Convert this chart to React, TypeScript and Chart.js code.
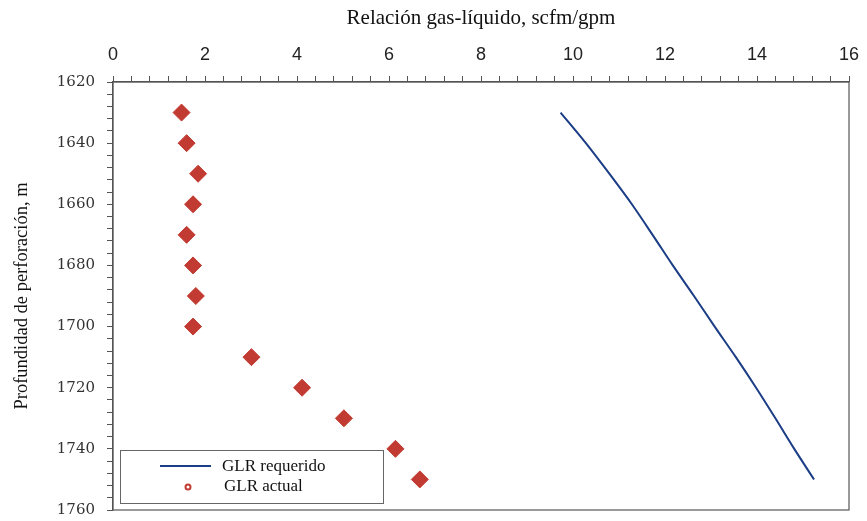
import React, { useEffect, useRef } from "react";
import { Chart, registerables } from "chart.js";

Chart.register(...registerables);

const depths = [1630, 1640, 1650, 1660, 1670, 1680, 1690, 1700, 1710, 1720, 1730, 1740, 1750];
const glrActual = [1.49, 1.6, 1.85, 1.74, 1.6, 1.74, 1.8, 1.74, 3.01, 4.11, 5.02, 6.14, 6.67];
const glrRequerido = [9.73, 10.28, 10.79, 11.28, 11.73, 12.17, 12.63, 13.08, 13.54, 13.98, 14.4, 14.81, 15.24];

const xTitle = "Relación gas-líquido, scfm/gpm";
const yTitle = "Profundidad de perforación, m";
const legendLabels = ["GLR requerido", "GLR actual"];

const LINE_COLOR = "#1b3d85";
const MARK_COLOR = "#c23b32";
const AXIS_COLOR = "#555555";

const isMult = (v: number, m: number) => Math.abs(v / m - Math.round(v / m)) < 1e-6;

const framePlugin = {
  id: "frameAndLegend",
  afterDraw(chart: any) {
    const { ctx, chartArea } = chart;
    const { left, top, right, bottom } = chartArea;
    ctx.save();
    ctx.strokeStyle = AXIS_COLOR;
    ctx.lineWidth = 1.2;
    ctx.strokeRect(left, top, right - left, bottom - top);

    // legend box
    const bx = left + 7;
    const by = bottom - 60;
    const bw = 263;
    const bh = 53;
    ctx.fillStyle = "#ffffff";
    ctx.fillRect(bx, by, bw, bh);
    ctx.strokeStyle = "#666666";
    ctx.lineWidth = 1;
    ctx.strokeRect(bx + 0.5, by + 0.5, bw, bh);

    ctx.strokeStyle = LINE_COLOR;
    ctx.lineWidth = 2;
    ctx.beginPath();
    ctx.moveTo(bx + 40, by + 16);
    ctx.lineTo(bx + 91, by + 16);
    ctx.stroke();

    ctx.strokeStyle = MARK_COLOR;
    ctx.lineWidth = 2;
    ctx.fillStyle = "#ffffff";
    ctx.beginPath();
    ctx.arc(bx + 68, by + 37, 2.5, 0, Math.PI * 2);
    ctx.fill();
    ctx.stroke();

    ctx.fillStyle = "#111111";
    ctx.font = "17px 'Liberation Serif', serif";
    ctx.textBaseline = "middle";
    ctx.textAlign = "left";
    ctx.fillText(legendLabels[0], bx + 102, by + 17);
    ctx.fillText(legendLabels[1], bx + 104, by + 37);
    ctx.restore();
  },
};

export default function App() {
  const ref = useRef<HTMLCanvasElement | null>(null);

  useEffect(() => {
    if (!ref.current) return;
    const chart = new Chart(ref.current, {
      type: "scatter",
      data: {
        datasets: [
          {
            label: legendLabels[0],
            data: depths.map((d, i) => ({ x: glrRequerido[i], y: d })),
            showLine: true,
            borderColor: LINE_COLOR,
            borderWidth: 2,
            pointRadius: 0,
            tension: 0.3,
            order: 2,
          },
          {
            label: legendLabels[1],
            data: depths.map((d, i) => ({ x: glrActual[i], y: d })),
            showLine: false,
            pointStyle: "rectRot",
            pointRadius: 8.5,
            backgroundColor: MARK_COLOR,
            borderColor: MARK_COLOR,
            borderWidth: 1,
            order: 1,
          },
        ],
      },
      options: {
        animation: false,
        responsive: true,
        maintainAspectRatio: false,
        layout: { padding: { left: 0, right: 18, top: 0, bottom: 11 } },
        plugins: { legend: { display: false }, tooltip: { enabled: false } },
        scales: {
          x: {
            type: "linear",
            position: "top",
            min: 0,
            max: 16,
            afterFit: (s: any) => {
              s.height = 82;
              s.paddingLeft = 0;
              s.paddingRight = 0;
            },
            ticks: {
              stepSize: 0.4,
              autoSkip: false,
              maxRotation: 0,
              padding: 10,
              color: "#222222",
              font: { family: "'Liberation Sans Narrow', 'Liberation Sans', sans-serif", size: 18 },
              callback: (v: any) => (isMult(Number(v), 2) ? String(Math.round(Number(v))) : ""),
            },
            grid: {
              drawOnChartArea: false,
              drawTicks: true,
              tickLength: 6,
              color: AXIS_COLOR,
              tickColor: AXIS_COLOR,
            },
            border: { display: true, color: AXIS_COLOR, width: 1.2 },
            title: {
              display: true,
              text: xTitle,
              color: "#111111",
              font: { family: "'Liberation Serif', serif", size: 21 },
              padding: { top: 6, bottom: 0 },
            },
          },
          y: {
            type: "linear",
            reverse: true,
            min: 1620,
            max: 1760,
            afterFit: (s: any) => {
              s.width = 113;
              s.paddingTop = 0;
              s.paddingBottom = 0;
            },
            ticks: {
              stepSize: 4,
              autoSkip: false,
              padding: 12,
              color: "#333333",
              font: { family: "'DejaVu Serif', serif", size: 15 },
              callback: (v: any) => (isMult(Number(v) - 1620, 20) ? String(Math.round(Number(v))) : ""),
            },
            grid: {
              drawOnChartArea: false,
              drawTicks: true,
              tickLength: 6,
              color: AXIS_COLOR,
              tickColor: AXIS_COLOR,
            },
            border: { display: true, color: AXIS_COLOR, width: 1.2 },
            title: {
              display: true,
              text: yTitle,
              color: "#111111",
              font: { family: "'Liberation Serif', serif", size: 18.5 },
              padding: { top: 11, bottom: 4 },
            },
          },
        },
      },
      plugins: [framePlugin],
    });
    return () => chart.destroy();
  }, []);

  return (
    <div style={{ position: "fixed", left: 0, top: 0, width: 867, height: 521, background: "#fff" }}>
      <canvas ref={ref} />
    </div>
  );
}
